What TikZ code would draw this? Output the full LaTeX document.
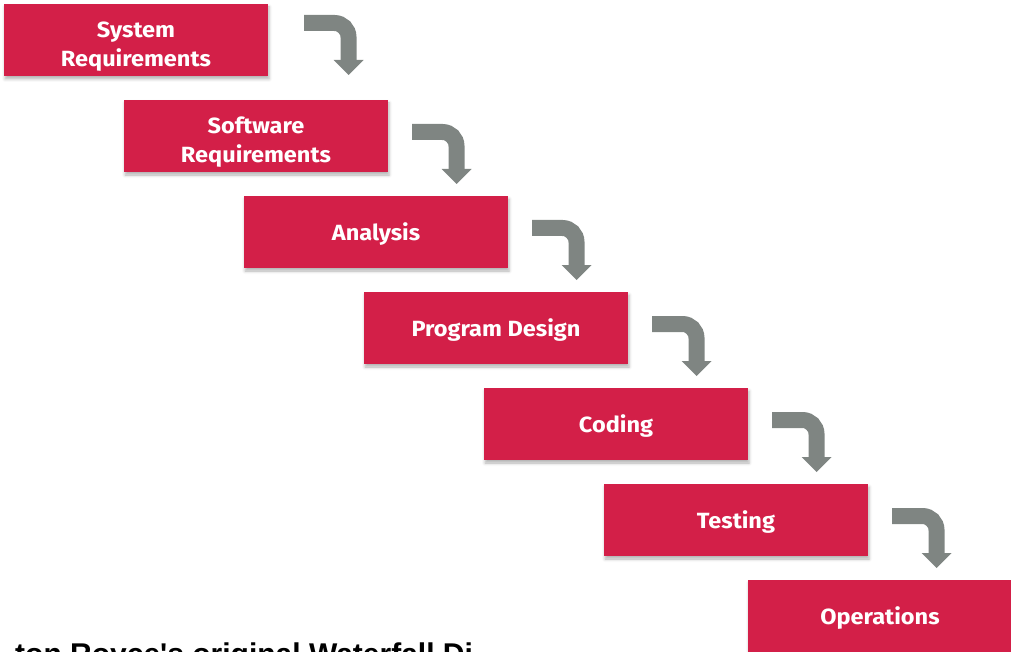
\documentclass[tikz,border=0pt]{standalone}
\usepackage{fontspec}
\setmainfont{Fira Sans}[FakeStretch=1.07]
\newfontfamily\captionfont{Liberation Sans}
\usetikzlibrary{shadows.blur}
\definecolor{stepred}{HTML}{D31F48}
\definecolor{turngray}{HTML}{7F8582}

\begin{document}
\begin{tikzpicture}[x=1pt, y=-1pt,
  stage/.style={fill=stepred, text=white, anchor=north west,
    minimum width=264pt, minimum height=72pt, inner sep=0pt, outer sep=0pt,
    align=center, font=\bfseries\fontsize{22}{29}\selectfont,
    text height=17pt, text depth=0pt,
    blur shadow={shadow xshift=1pt, shadow yshift=-3pt,
      shadow blur radius=3pt, shadow opacity=30}},
  twoline/.style={text height=54pt},
  turn/.pic={
    \draw[turngray, line width=16pt, rounded corners=14pt] (0,8) -- (44.5,8) -- (44.5,46);
    \fill[turngray] (29.5,45) -- (59.5,45) -- (44.5,60) -- cycle;
  }]

\path[use as bounding box, clip] (0,0) rectangle (1011,652);

\node[stage, twoline] (sysreq) at(  4,  4) {System\\Requirements};
\node[stage, twoline] (swreq)  at(124,100) {Software\\Requirements};
\node[stage] (analysis)   at(244,196) {Analysis};
\node[stage] (design)     at(364,292) {Program Design};
\node[stage] (coding)     at(484,388) {Coding};
\node[stage] (testing)    at(604,484) {Testing};
\node[stage] (operations) at(748,580) {Operations};

\pic at ([shift={(36,11)}]sysreq.north east) {turn};
\pic at ([shift={(24,24)}]swreq.north east)  {turn};
\pic at ([shift={(24,24)}]analysis.north east) {turn};
\pic at ([shift={(24,24)}]design.north east) {turn};
\pic at ([shift={(24,24)}]coding.north east) {turn};
\pic at ([shift={(24,24)}]testing.north east) {turn};

\node[anchor=base west, inner sep=0pt,
  font=\captionfont\bfseries\fontsize{30}{36}\selectfont] (caption) at(15,664)
  {ton Royce's original Waterfall Di};

\end{tikzpicture}
\end{document}
